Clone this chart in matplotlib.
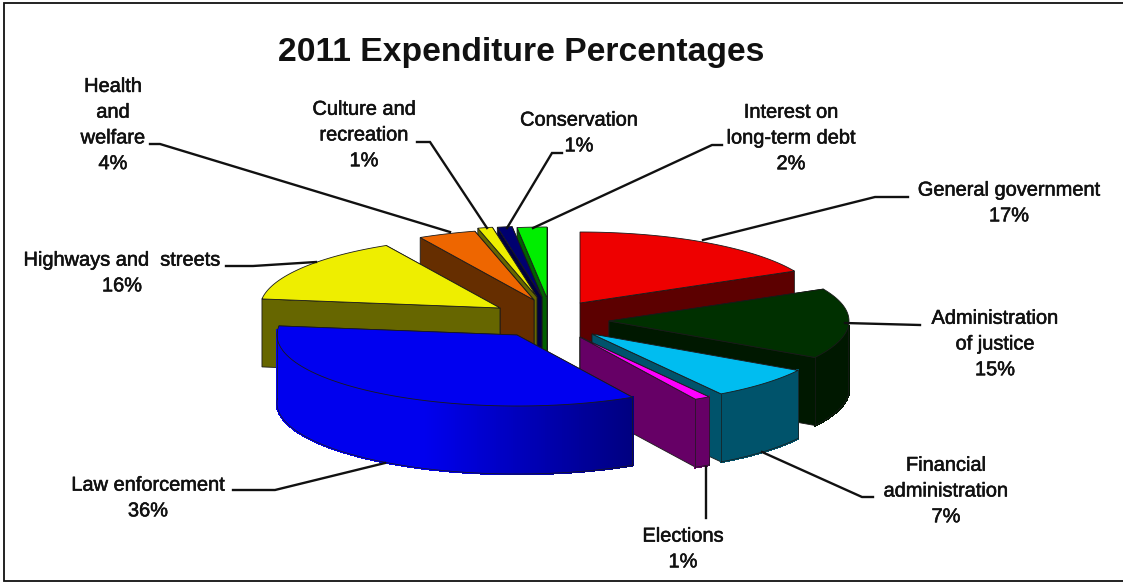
import numpy as np
import matplotlib
matplotlib.use("Agg")
import matplotlib.pyplot as plt
import matplotlib.colors as mcolors
import matplotlib.patheffects as pe
from matplotlib.patches import Polygon

# 2011 expenditure shares, clockwise from 12 o'clock
categories = ["General government", "Administration\nof justice", "Financial\nadministration",
              "Elections", "Law enforcement", "Highways and  streets", "Health\nand\nwelfare",
              "Culture and\nrecreation", "Conservation", "Interest on\nlong-term debt"]
percents = [17, 15, 7, 1, 36, 16, 4, 1, 1, 2]

# colours of the top face and the side walls
top_colors = ["#ee0000", "#003000", "#00bdf0", "#ff00ff", "#0000f0",
              "#eeee00", "#ee6600", "#eeee00", "#000070", "#00ee00"]
wall_colors = ["#5c0000", "#001800", "#00536b", "#660066", "#0000ee",
               "#666600", "#662e00", "#666600", "#000040", "#006000"]
wall_end_colors = ["#5c0000", "#001800", "#00536b", "#660066", "#00007f",
                   "#666600", "#662e00", "#666600", "#000040", "#006000"]

# how far each slice is pulled out of the pie, in pixels
center_x, center_y = 547, 320
explode_x = [33, 62, 45, 33, -30, -47, -13, -10, -5, 0]
explode_y = [-17, 1, 14, 17, 15, -12, -20, -23, -23, -22]
draw_order = [9, 8, 7, 6, 0, 5, 1, 2, 3, 4]

radius_x, radius_y = 240, 71
wall_height = 68
foreshorten = 4  # degrees of angle stretch towards the front of the pie

# leader lines, from the slice out to the label
leaders = [
    [(703, 240), (875, 197), (908, 197)],
    [(845, 323), (920, 325)],
    [(762, 452), (862, 497), (873, 497)],
    [(706, 467), (706, 518)],
    [(385, 463), (275, 490), (233, 490)],
    [(316, 262), (253, 266), (226, 266)],
    [(450, 232), (160, 144), (150, 144)],
    [(487, 228), (430, 142), (417, 142)],
    [(507, 228), (552, 153), (562, 153)],
    [(533, 228), (712, 145), (722, 145)],
]
label_pos = [(1009, 203), (995, 344), (946, 491), (683, 549), (148, 498),
             (122, 273), (113, 125), (364, 135), (579, 133), (791, 138)]


def edge_xy(apex, phi, z=0):
    # phi is measured clockwise from the top of the pie
    phi = phi + foreshorten * (1 - np.cos(np.radians(phi)))
    x = apex[0] + radius_x * np.sin(np.radians(phi))
    y = apex[1] - radius_y * np.cos(np.radians(phi)) + z
    return x, y


def cut_face(ax, apex, phi, color):
    ox, oy = edge_xy(apex, phi)
    pts = [apex, (ox, oy), (ox, oy + wall_height), (apex[0], apex[1] + wall_height)]
    ax.add_patch(Polygon(pts, closed=True, fc=color, ec="#1a1a1a", lw=0.6))


def draw_slice(ax, i, start, stop):
    apex = (center_x + explode_x[i], center_y + explode_y[i])
    phis = np.linspace(start, stop, max(int(stop - start) * 2, 4))

    # side faces at the two cuts, the one further back goes first
    ends = sorted([start, stop], key=lambda p: edge_xy(apex, p)[1])
    for p in ends:
        cut_face(ax, apex, p, wall_colors[i])

    # outer wall, split in strips so the colour can run along it
    c0 = np.array(mcolors.to_rgb(wall_colors[i]))
    c1 = np.array(mcolors.to_rgb(wall_end_colors[i]))
    ox, oy = edge_xy(apex, phis)
    xmin, xmax = ox.min(), ox.max()
    for k in range(len(phis) - 1):
        if np.cos(np.radians(phis[k])) > 0 and np.cos(np.radians(phis[k + 1])) > 0:
            continue
        # blend only over the right hand part of the wall
        frac = np.clip(((ox[k] + ox[k + 1]) / 2 - xmin) / (xmax - xmin) * 1.7 - 0.7, 0, 1)
        col = c0 + (c1 - c0) * frac
        pts = [(ox[k], oy[k]), (ox[k + 1], oy[k + 1]),
               (ox[k + 1], oy[k + 1] + wall_height), (ox[k], oy[k] + wall_height)]
        ax.add_patch(Polygon(pts, closed=True, fc=col, ec=col, lw=1.2, antialiased=False))
    front = np.cos(np.radians(phis)) <= 0
    if front.any():
        ax.plot(ox[front], oy[front] + wall_height, color="#1a1a1a", lw=0.5)
        ax.plot([ox[front][-1]] * 2, [oy[front][-1], oy[front][-1] + wall_height], color="#1a1a1a", lw=0.5)
        ax.plot([ox[front][0]] * 2, [oy[front][0], oy[front][0] + wall_height], color="#1a1a1a", lw=0.5)

    # top face
    pts = [apex] + list(zip(ox, oy))
    ax.add_patch(Polygon(pts, closed=True, fc=top_colors[i], ec="#1a1a1a", lw=0.6))


fig = plt.figure(figsize=(11.23, 5.82), dpi=100)
ax = fig.add_axes([0, 0, 1, 1])
ax.set_xlim(0, 1123)
ax.set_ylim(582, 0)
ax.axis("off")

# frame is open on the right
ax.plot([1123, 4, 4, 1123], [3, 3, 581, 581], color="#111111", lw=1.3, solid_joinstyle="miter")

cum = np.concatenate([[0], np.cumsum(percents)]) * 3.6
for i in draw_order:
    draw_slice(ax, i, cum[i], cum[i + 1])

for line in leaders:
    xs, ys = zip(*line)
    ax.plot(xs, ys, color="#111111", lw=1.7, solid_joinstyle="miter")

for name, pct, (x, y) in zip(categories, percents, label_pos):
    ax.text(x, y, f"{name}\n{pct}%", ha="center", va="center", family="Liberation Sans",
            fontsize=14.4, linespacing=1.45, color="#111111",
            path_effects=[pe.withStroke(linewidth=0.4, foreground="#111111")])

ax.text(521, 52, "2011 Expenditure Percentages", ha="center", va="center",
        family="Liberation Sans", fontweight="bold", fontsize=24.2, color="#111111")

fig.savefig("out.png", dpi=100)
